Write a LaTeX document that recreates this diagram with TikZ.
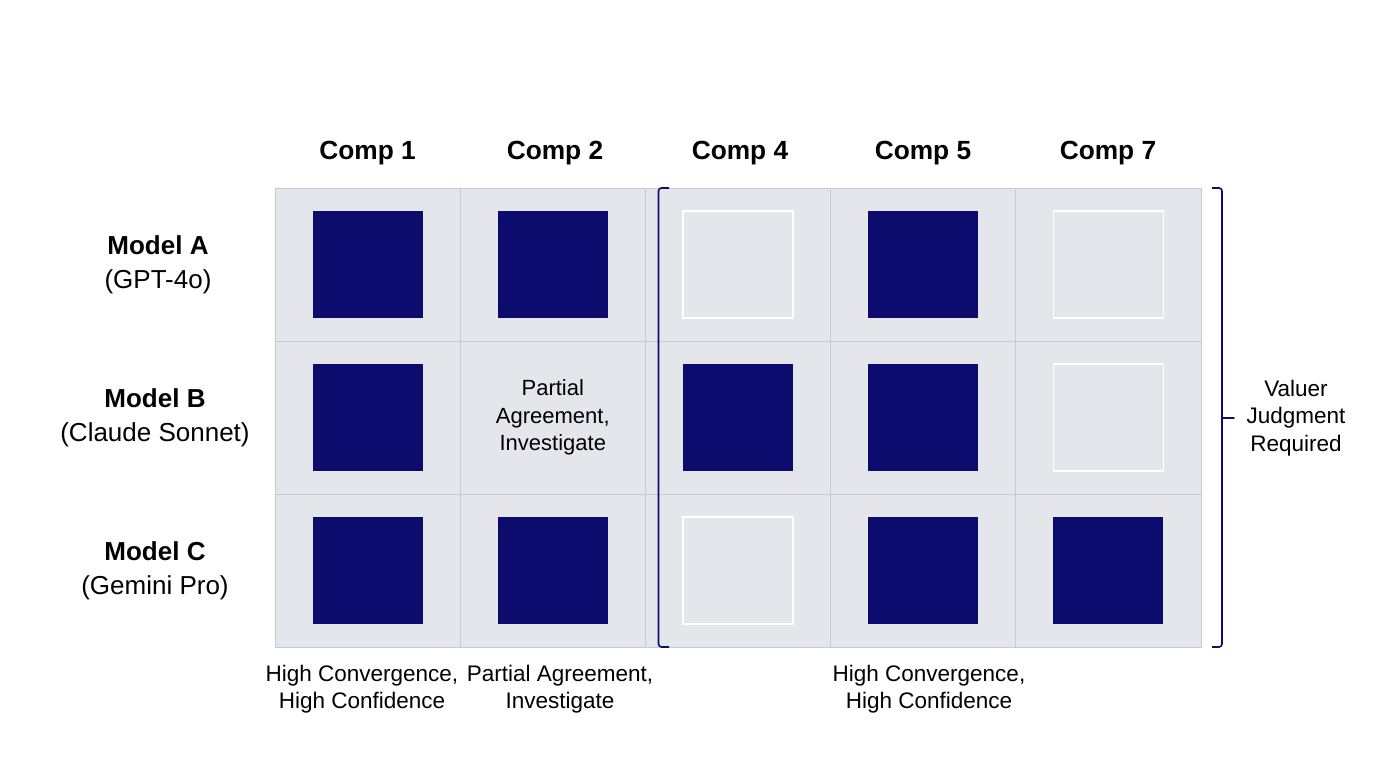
\documentclass[tikz,border=0pt]{standalone}
\usepackage{fontspec}
\setmainfont{Liberation Sans}
\begin{document}
\begin{tikzpicture}[x=1pt,y=-1pt,
  cellbox/.style={draw=gridc,fill=cellc,line width=0.8pt,minimum width=185.2pt,minimum height=153pt,inner sep=0pt,anchor=center},
  full/.style={fill=navy,minimum width=110pt,minimum height=107pt,inner sep=0pt},
  empty/.style={draw=white,line width=1.2pt,minimum width=110pt,minimum height=107pt,inner sep=0pt},
  head/.style={font=\bfseries\fontsize{26.3}{30}\selectfont},
  rowl/.style={align=center,font=\fontsize{28}{34}\selectfont},
  lab/.style={align=center,font=\fontsize{22.5}{27.5}\selectfont},
  brk/.style={draw=navy,line width=1.6pt,rounded corners=3pt}]
\definecolor{navy}{HTML}{0C0C6E}
\definecolor{cellc}{HTML}{E4E6EB}
\definecolor{gridc}{HTML}{C6CAD2}
\useasboundingbox (0,0) rectangle (1376,768);
\fill[white] (0,0) rectangle (1376,768);
\foreach \c/\x in {1/367.6,2/552.8,3/738,4/923.2,5/1108.4}{
  \foreach \r/\y in {1/264.5,2/417.5,3/570.5}{
    \node[cellbox] (c\c\r) at (\x,\y) {};
  }}
\foreach \c/\r in {1/1,2/1,4/1,1/2,3/2,4/2,1/3,2/3,4/3,5/3}{\node[full] (f\c\r) at (c\c\r) {};}
\foreach \c/\r in {3/1,5/1,5/2,3/3}{\node[empty] (e\c\r) at (c\c\r) {};}
\node[lab,font=\fontsize{22}{27.5}\selectfont] (p22) at (c22) {Partial\\Agreement,\\Investigate};
\node[head] (h1) at (367.6,153) {Comp 1};
\node[head] (h2) at (555,153) {Comp 2};
\node[head] (h4) at (740,153) {Comp 4};
\node[head] (h5) at (923,153) {Comp 5};
\node[head] (h7) at (1108,153) {Comp 7};
\node[rowl,font=\fontsize{26}{34}\selectfont] (ra) at (158,265) {\textbf{Model A}\\(GPT-4o)};
\node[rowl,font=\fontsize{26}{34}\selectfont] (rb) at (155,418) {\textbf{Model B}\\(Claude Sonnet)};
\node[rowl,font=\fontsize{26}{34}\selectfont] (rc) at (155,571) {\textbf{Model C}\\(Gemini Pro)};
\node[lab] (b1) at (362,689) {High Convergence,\\High Confidence};
\node[lab] (b2) at (560,689) {Partial Agreement,\\Investigate};
\node[lab] (b3) at (929,689) {High Convergence,\\High Confidence};
\node[lab] (vj) at (1296,418) {Valuer\\Judgment\\Required};
\draw[brk] (669,188) -- (658.5,188) -- (658.5,647) -- (669,647);
\draw[brk] (1212,188) -- (1222,188) -- (1222,647) -- (1212,647);
\draw[draw=navy,line width=1.6pt,line cap=round] (1222,418) -- (1234,418);
\end{tikzpicture}
\end{document}
